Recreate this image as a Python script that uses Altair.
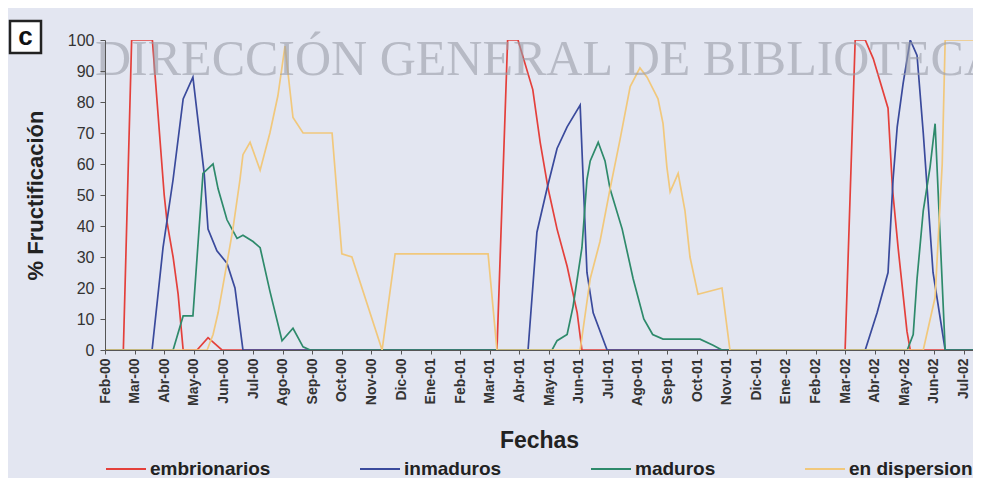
import json
import altair as alt
import pandas as pd

MESES = ["Feb-00", "Mar-00", "Abr-00", "May-00", "Jun-00", "Jul-00", "Ago-00", "Sep-00",
         "Oct-00", "Nov-00", "Dic-00", "Ene-01", "Feb-01", "Mar-01", "Abr-01", "May-01",
         "Jun-01", "Jul-01", "Ago-01", "Sep-01", "Oct-01", "Nov-01", "Dic-01", "Ene-02",
         "Feb-02", "Mar-02", "Abr-02", "May-02", "Jun-02", "Jul-02"]

SERIES = ["embrionarios", "inmaduros", "maduros", "en dispersion"]
COLORES = ["#e4403b", "#3a4a9c", "#2e8a6b", "#f1c87c"]

# months since Feb-00 (fractional) and % values
emb_mes = [0, 0.62, 0.9, 1.6, 2.0, 2.1, 2.3, 2.47, 2.64, 3.11, 3.48, 3.95, 13.24, 13.6, 13.95,
           14.45, 14.7, 14.97, 15.27, 15.61, 15.95, 16.11, 25.0, 25.34, 25.68, 25.95, 26.45,
           26.6, 26.79, 27.09, 27.2, 29.59]
emb_val = [0, 0, 100, 100, 50, 41, 30, 18, 0, 0, 4, 0, 0, 100, 100,
           84, 67, 52, 39, 27, 12, 0, 0, 100, 100, 94, 78,
           52, 33, 6, 0, 0]

inm_mes = [0, 1.59, 1.96, 2.3, 2.64, 2.97, 3.35, 3.48, 3.78, 4.12, 4.39, 4.66, 14.29, 14.59,
           14.93, 15.27, 15.61, 16.05, 16.28, 16.49, 16.96, 25.68, 26.08, 26.45, 26.62, 26.76,
           26.96, 27.2, 27.43, 27.64, 27.97, 28.38, 29.59]
inm_val = [0, 0, 33, 55, 81, 88, 57, 39, 32, 28, 20, 0, 0, 38,
           52, 65, 72, 79, 25, 12, 0, 0, 12, 25, 55, 72,
           86, 100, 95, 70, 25, 0, 0]

mad_mes = [0, 2.3, 2.64, 2.97, 3.31, 3.65, 3.82, 4.12, 4.46, 4.66, 5.0, 5.24, 5.57, 5.98, 6.35,
           6.69, 6.93, 15.1, 15.27, 15.61, 15.81, 16.11, 16.28, 16.39, 16.66, 16.89, 17.06,
           17.47, 17.84, 18.2, 18.5, 18.85, 20.1, 20.54, 20.84, 27.1, 27.3, 27.43, 27.64,
           27.87, 28.04, 28.38, 29.59]
mad_val = [0, 0, 11, 11, 57, 60, 52, 42, 36, 37, 35, 33, 19, 3, 7,
           1, 0, 0, 3, 5, 14, 33, 55, 61, 67, 61, 52,
           39, 23, 10, 5, 3.5, 3.5, 1.5, 0, 0, 5, 23, 45,
           59, 73, 0, 0]

disp_mes = [0, 3.45, 3.65, 3.82, 4.12, 4.32, 4.56, 4.66, 4.9, 5.24, 5.57, 5.84, 6.08, 6.35,
            6.69, 7.67, 8.0, 8.34, 9.36, 9.8, 12.94, 13.24, 16.05, 16.39, 16.72, 17.06, 17.4,
            17.74, 18.07, 18.31, 18.68, 18.85, 18.98, 19.09, 19.36, 19.59, 19.76, 20.03, 20.84,
            21.11, 27.64, 28.04, 28.14, 28.28, 28.38, 29.59]
disp_val = [0, 0, 5, 12, 28, 39, 55, 63, 67, 58, 70, 82, 98, 75,
            70, 70, 31, 30, 0, 31, 31, 0, 0, 23, 35, 52, 68,
            85, 91, 88, 81, 73, 59, 51, 57, 45, 30, 18, 20,
            0, 0, 17, 35, 60, 100, 100]

rows = []
for serie, meses, vals in zip(SERIES, [emb_mes, inm_mes, mad_mes, disp_mes],
                              [emb_val, inm_val, mad_val, disp_val]):
    for i, (m, v) in enumerate(zip(meses, vals)):
        rows.append({"serie": serie, "mes": m, "valor": v, "orden": i})
df = pd.DataFrame(rows)

FONT = "Liberation Sans"
label_expr = json.dumps(MESES) + "[datum.value]"

lines = alt.Chart(df).mark_line(strokeWidth=1.7, clip=True).encode(
    x=alt.X("mes:Q",
            scale=alt.Scale(domain=[0, 29.32], nice=False, zero=False),
            axis=alt.Axis(values=list(range(len(MESES))), labelExpr=label_expr,
                          labelAngle=270, labelFontSize=14, labelFontWeight="bold",
                          labelFont=FONT, labelColor="#333333", labelPadding=4,
                          tickSize=4, tickColor="#555555", domainColor="#555555",
                          title="Fechas", titleFont=FONT, titleFontSize=23,
                          titleFontWeight="bold", titleColor="#222222", titlePadding=24,
                          grid=False, zindex=1)),
    y=alt.Y("valor:Q",
            scale=alt.Scale(domain=[0, 100], nice=False),
            axis=alt.Axis(values=list(range(0, 101, 10)), labelFontSize=16, labelFont=FONT,
                          labelColor="#333333", labelPadding=6, tickSize=5,
                          tickColor="#555555", domainColor="#555555",
                          title="% Fructificación", titleFont=FONT, titleFontSize=22,
                          titleFontWeight="bold", titleColor="#222222", titlePadding=20,
                          grid=False, zindex=1)),
    color=alt.Color("serie:N", scale=alt.Scale(domain=SERIES, range=COLORES),
                    legend=alt.Legend(orient="none", legendX=0, legendY=408,
                                      direction="horizontal", title=None,
                                      symbolType="stroke", symbolSize=1600,
                                      symbolStrokeWidth=2, labelFont=FONT,
                                      labelFontSize=19, labelFontWeight="bold",
                                      labelColor="#222222", columnPadding=85,
                                      labelOffset=3)),
    order="orden:Q",
)

wm = alt.Chart(pd.DataFrame({"t": ["DIRECCIÓN GENERAL DE BIBLIOTECAS"]})).mark_text(
    font="Liberation Serif", fontSize=50, color="#9a9ea9", opacity=0.6,
    align="left", baseline="alphabetic"
).encode(x=alt.value(-10), y=alt.value(35), text="t:N")

box = alt.Chart(pd.DataFrame({"t": ["c"]})).mark_rect(
    fill="#ffffff", stroke="#222222", strokeWidth=2.5
).encode(x=alt.value(-95), x2=alt.value(-64), y=alt.value(-19), y2=alt.value(13))

boxtxt = alt.Chart(pd.DataFrame({"t": ["c"]})).mark_text(
    font=FONT, fontSize=26, fontWeight="bold", color="#111111"
).encode(x=alt.value(-79.5), y=alt.value(-3), text="t:N")

chart = alt.layer(lines, wm, box, boxtxt).properties(
    width=868, height=310,
    padding={"left": 97, "top": 32, "right": 0, "bottom": 128},
    autosize=alt.AutoSizeParams(type="none"),
).configure(background="#e3e6f1").configure_view(stroke=None)

chart.save("out.html", embed_options={"renderer": "svg", "actions": False})
